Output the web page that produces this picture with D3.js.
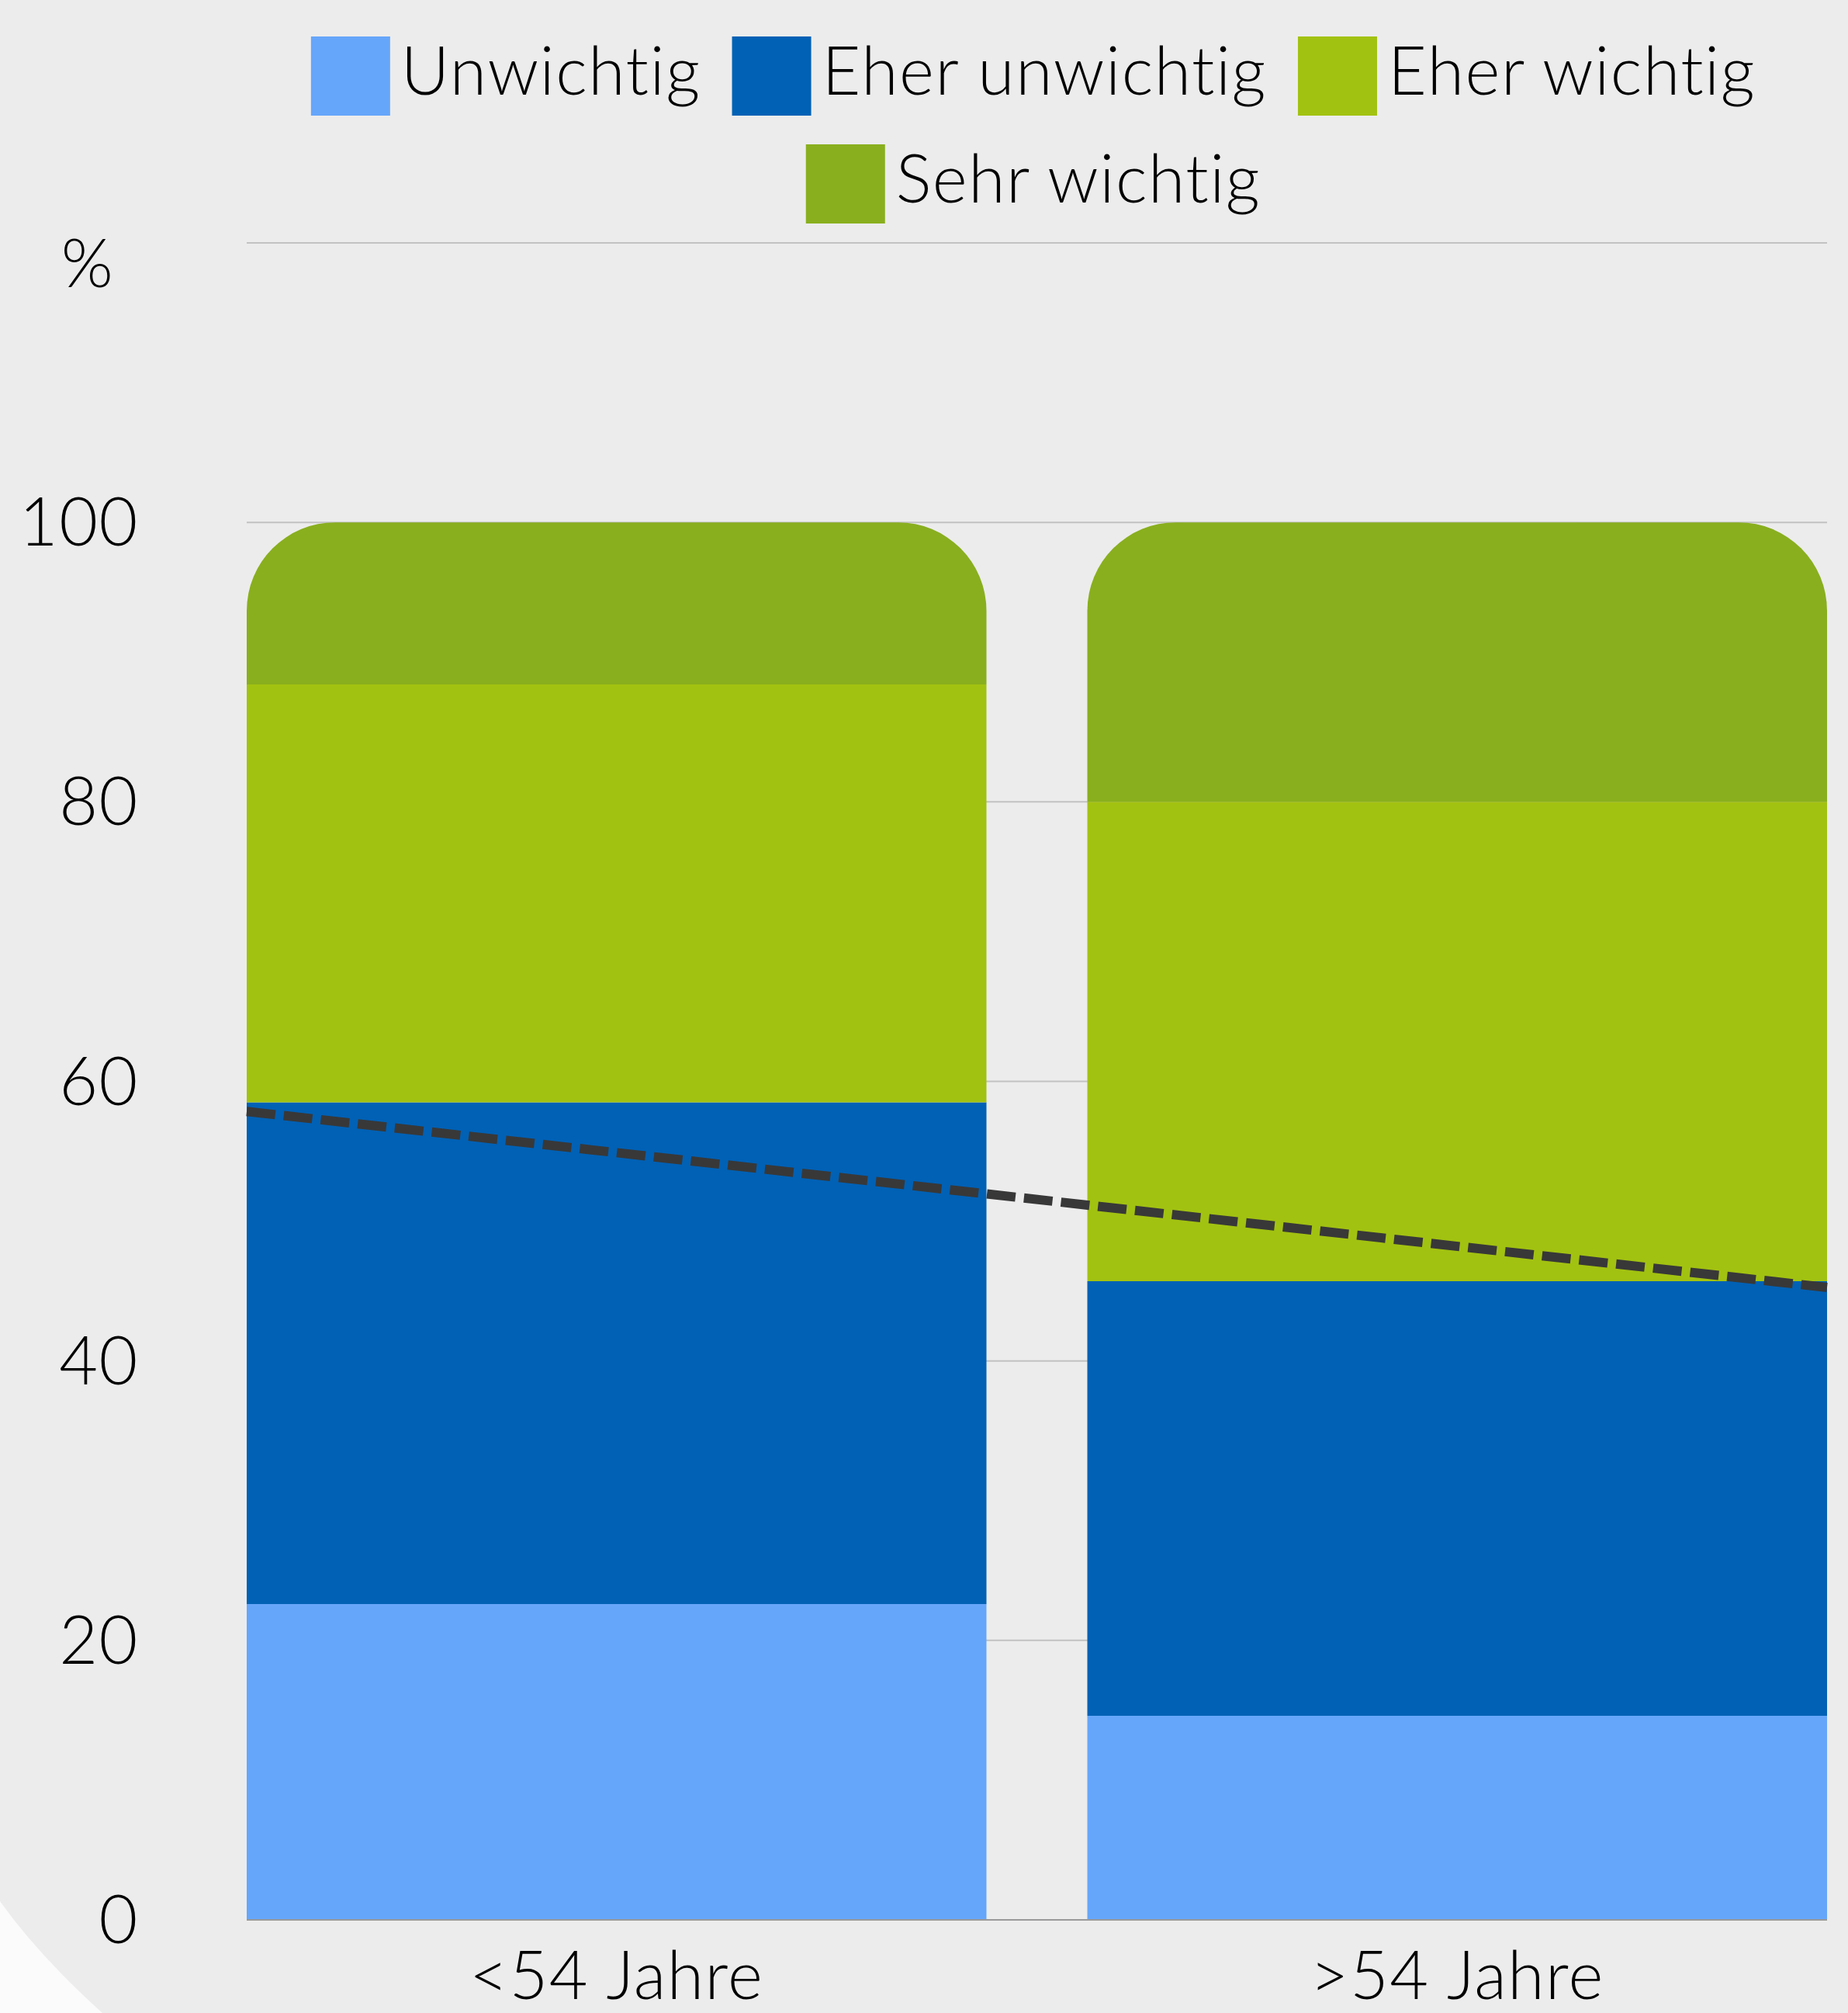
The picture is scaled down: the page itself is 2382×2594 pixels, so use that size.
<!DOCTYPE html>
<html lang="de">
<head>
  <meta charset="UTF-8">
  <title>Wichtigkeit nach Alter</title>
  <script src="https://d3js.org/d3.v7.min.js"></script>
  <style>
    html, body {
      margin: 0;
      padding: 0;
      background: #ececec;
      overflow: hidden;
    }
    svg text {
      font-family: "Lato", "Open Sans", sans-serif;
      font-weight: 300;
      font-variant-ligatures: none;
      letter-spacing: 1.5px;
      fill: #000;
    }
  </style>
</head>
<body>
  <svg id="chart"></svg>
  <script>
    // data
    const categories = ['<54 Jahre', '>54 Jahre'];
    const seriesNames = ['Unwichtig', 'Eher unwichtig', 'Eher wichtig', 'Sehr wichtig'];
    const unwichtig = [22.6, 14.6];
    const eherUnwichtig = [35.9, 31.1];
    const eherWichtig = [29.9, 34.3];
    const sehrWichtig = [11.6, 20.0];
    const trendValues = [54.9, 48.2];
    const yTicks = [0, 20, 40, 60, 80, 100, 120];
    const yLabels = ['0', '20', '40', '60', '80', '100', ''];
    const colors = ['#66a6fa', '#0061b5', '#a2c211', '#89af1e'];

    const width = 2382, height = 2594;
    const margin = {top: 313, right: 27, bottom: 120, left: 318};
    const innerW = width - margin.left - margin.right;
    const innerH = height - margin.top - margin.bottom;

    const svg = d3.select('#chart')
      .attr('width', width)
      .attr('height', height);

    svg.append('rect')
      .attr('width', width)
      .attr('height', height)
      .attr('fill', '#ececec');

    // lighter corner at the bottom left
    svg.append('path')
      .attr('d', `M0,2450 Q50,2520 132,${height} L0,${height} Z`)
      .attr('fill', '#fbfbfb');

    const rows = categories.map((c, i) => ({
      cat: c,
      'Unwichtig': unwichtig[i],
      'Eher unwichtig': eherUnwichtig[i],
      'Eher wichtig': eherWichtig[i],
      'Sehr wichtig': sehrWichtig[i],
    }));
    const stacked = d3.stack().keys(seriesNames)(rows);

    const x = d3.scaleBand()
      .domain(categories)
      .range([0, innerW])
      .paddingInner(0.12)
      .paddingOuter(0);

    const y = d3.scaleLinear()
      .domain([0, 120])
      .range([innerH, 0]);

    const g = svg.append('g')
      .attr('transform', `translate(${margin.left},${margin.top})`);

    // gridlines
    g.append('g')
      .selectAll('line')
      .data(yTicks.filter(d => d > 0))
      .join('line')
      .attr('x1', 0)
      .attr('x2', innerW)
      .attr('y1', d => y(d))
      .attr('y2', d => y(d))
      .attr('stroke', '#c2c2c2')
      .attr('stroke-width', 2);

    // y labels
    g.append('g')
      .selectAll('text')
      .data(yTicks)
      .join('text')
      .attr('x', 179 - margin.left)
      .attr('y', d => y(d))
      .attr('dy', '0.35em')
      .attr('text-anchor', 'end')
      .attr('font-size', 86)
      .text((d, i) => yLabels[i]);

    svg.append('text')
      .attr('x', 113)
      .attr('y', 370)
      .attr('text-anchor', 'middle')
      .attr('font-size', 86)
      .text('%');

    // rounded top for the last segment
    const r = 114;
    function topRounded(x0, y0, w, y1) {
      const rr = Math.min(r, w / 2, y1 - y0);
      return `M${x0},${y1} L${x0},${y0 + rr} A${rr},${rr} 0 0 1 ${x0 + rr},${y0}` +
        ` L${x0 + w - rr},${y0} A${rr},${rr} 0 0 1 ${x0 + w},${y0 + rr} L${x0 + w},${y1} Z`;
    }

    const last = seriesNames.length - 1;
    g.append('g')
      .selectAll('g')
      .data(stacked)
      .join('g')
      .attr('fill', (d, i) => colors[i])
      .each(function (s, si) {
        d3.select(this).selectAll('path')
          .data(s)
          .join('path')
          .attr('d', d => {
            const x0 = x(d.data.cat);
            const w = x.bandwidth();
            const y0 = y(d[1]);
            const y1 = y(d[0]);
            if (si === last) return topRounded(x0, y0, w, y1);
            return `M${x0},${y0}H${x0 + w}V${y1}H${x0}Z`;
          });
      });

    // baseline
    g.append('line')
      .attr('x1', 0)
      .attr('x2', innerW)
      .attr('y1', y(0))
      .attr('y2', y(0))
      .attr('stroke', '#9a9a9a')
      .attr('stroke-width', 2);

    // dashed trend line, extended to plot edges
    const step = x.step();
    const c0 = x(categories[0]) + x.bandwidth() / 2;
    const trend = d3.scaleLinear().domain([0, 1]).range(trendValues);
    const ends = [0, innerW].map(px => [px, y(trend((px - c0) / step))]);
    g.append('path')
      .attr('d', d3.line()(ends))
      .attr('fill', 'none')
      .attr('stroke', '#383838')
      .attr('stroke-width', 12)
      .attr('stroke-dasharray', '37 11');

    // x labels
    g.append('g')
      .selectAll('text')
      .data(categories)
      .join('text')
      .attr('x', d => x(d) + x.bandwidth() / 2)
      .attr('y', 2576 - margin.top)
      .attr('text-anchor', 'middle')
      .attr('font-size', 86)
      .text(d => d);

    // legend, two rows centred
    const legendRows = [seriesNames.slice(0, 3), seriesNames.slice(3)];
    const legendCenter = 1332;
    const sw = 102, gapT = 14, gapI = 40;
    legendRows.forEach((names, ri) => {
      const lg = svg.append('g');
      let cx = 0;
      names.forEach(name => {
        const idx = seriesNames.indexOf(name);
        const item = lg.append('g').attr('transform', `translate(${cx},0)`);
        item.append('rect')
          .attr('width', sw)
          .attr('height', sw)
          .attr('fill', colors[idx]);
        const t = item.append('text')
          .attr('x', sw + gapT)
          .attr('y', 75)
          .attr('font-size', 86)
          .text(name);
        cx += sw + gapT + t.node().getComputedTextLength() + gapI;
      });
      const total = cx - gapI;
      lg.attr('transform', `translate(${legendCenter - total / 2},${47 + ri * 139})`);
    });
  </script>
</body>
</html>
